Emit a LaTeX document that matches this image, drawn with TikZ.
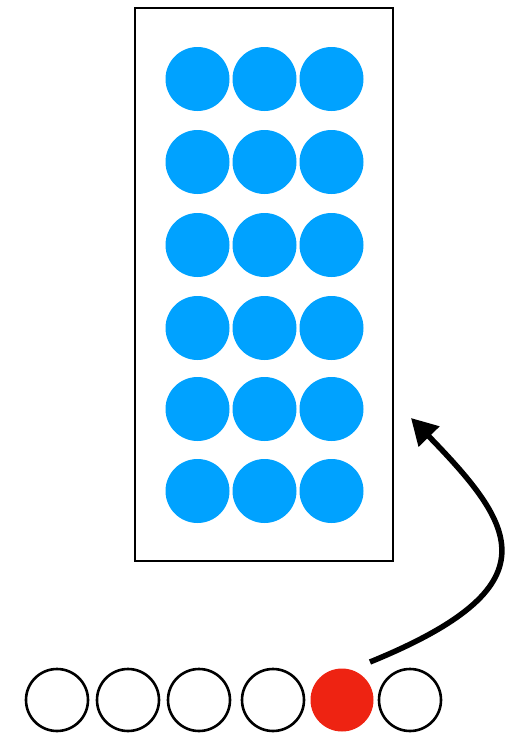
\documentclass[tikz,border=0pt]{standalone}
\usetikzlibrary{arrows.meta}
\definecolor{dotblue}{HTML}{00A2FF}
\definecolor{dotred}{HTML}{EE2312}
\begin{document}
\begin{tikzpicture}[x=1pt,y=-1pt,
  bluedot/.style={circle,fill=dotblue,minimum size=64pt,inner sep=0pt},
  slot/.style={circle,draw=black,line width=2.6pt,minimum size=62pt,inner sep=0pt,fill=white},
  reddot/.style={circle,fill=dotred,minimum size=63pt,inner sep=0pt},
  box/.style={draw=black,line width=2.4pt},
  movearrow/.style={line width=5.5pt,-{Triangle[length=26pt,width=28pt]}}]
\useasboundingbox (0,0) rectangle (509,736);
\node[box,minimum width=258pt,minimum height=553pt,inner sep=0pt] (tray) at (264,284.5) {};
\foreach \r/\y in {1/79,2/162,3/245,4/328,5/409,6/491}{
  \foreach \c/\x in {1/197.5,2/264.5,3/331.5}{
    \node[bluedot] (b\r\c) at (\x,\y) {};
  }
}
\node[slot] (s1) at (57,700) {};
\node[slot] (s2) at (128,700) {};
\node[slot] (s3) at (199,700) {};
\node[slot] (s4) at (273,700) {};
\node[reddot] (s5) at (342,700) {};
\node[slot] (s6) at (410,700) {};
\coordinate (astart) at (370,662);
\coordinate (aend) at (411,418);
\draw[movearrow] (astart) .. controls (556,586) and (516,526) .. (aend);
\end{tikzpicture}
\end{document}
